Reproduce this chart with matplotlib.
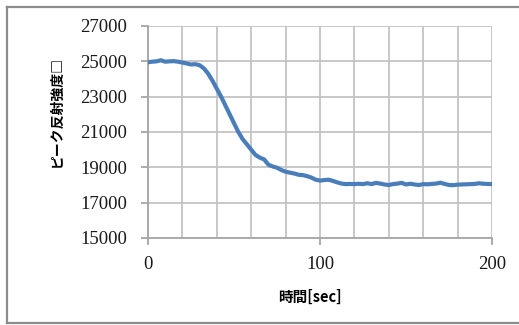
import matplotlib
matplotlib.use("Agg")
import matplotlib.pyplot as plt
from matplotlib.lines import Line2D
from matplotlib.ticker import MultipleLocator

plt.rcParams["font.family"] = "serif"
plt.rcParams["font.serif"] = ["Liberation Serif", "DejaVu Serif"]

# Measured peak reflection intensity over time
time_sec = [0, 2.5, 5, 7.5, 10, 12.5, 15, 17.5, 20, 22.5, 25, 27.5, 30, 32.5, 35, 37.5,
            40, 42.5, 45, 47.5, 50, 52.5, 55, 57.5, 60, 62.5, 65, 67.5, 70, 72.5, 75,
            77.5, 80, 82.5, 85, 87.5, 90, 92.5, 95, 97.5, 100, 102.5, 105, 107.5, 110,
            112.5, 115, 117.5, 120, 122.5, 125, 127.5, 130, 132.5, 135, 137.5, 140,
            142.5, 145, 147.5, 150, 152.5, 155, 157.5, 160, 162.5, 165, 167.5, 170,
            172.5, 175, 177.5, 180, 182.5, 185, 187.5, 190, 192.5, 195, 197.5, 200]
intensity = [24950, 24980, 25000, 25060, 24980, 25000, 25010, 24980, 24930, 24880,
             24820, 24840, 24780, 24600, 24300, 23900, 23450, 23000, 22500, 22000,
             21500, 21000, 20600, 20300, 20000, 19700, 19550, 19450, 19150, 19050,
             18980, 18850, 18750, 18700, 18650, 18580, 18560, 18500, 18420, 18300,
             18250, 18280, 18300, 18230, 18150, 18080, 18050, 18060, 18050, 18070,
             18050, 18100, 18050, 18120, 18080, 18030, 18000, 18050, 18080, 18120,
             18030, 18070, 18030, 18000, 18050, 18040, 18060, 18080, 18130, 18060,
             18000, 17990, 18020, 18030, 18040, 18050, 18060, 18100, 18070, 18060, 18050]

x_ticks = [0, 100, 200]
y_ticks = [15000, 17000, 19000, 21000, 23000, 25000, 27000]
x_label = "時間[sec]"
y_label = "ピーク反射強度□"

W, H = 519, 325
fig = plt.figure(figsize=(W / 100, H / 100), dpi=100)
fig.patch.set_facecolor("white")

# outer chart frame
frame_kw = dict(color="#8c8c8c", linewidth=1.6, transform=fig.transFigure)
fig.add_artist(Line2D([7 / W, 7 / W], [2 / H, 1 - 7 / H], **frame_kw))
fig.add_artist(Line2D([7 / W, 1], [1 - 7 / H, 1 - 7 / H], **frame_kw))
fig.add_artist(Line2D([7 / W, 1], [2 / H, 2 / H], **frame_kw))

ax = fig.add_axes([148 / W, 1 - 238 / H, (492 - 148) / W, (238 - 26) / H])
grid_c = "#c4c4c4"

ax.plot(time_sec, intensity, color="#4a7ebb", linewidth=3.0, solid_capstyle="round",
        solid_joinstyle="round", zorder=3)

ax.set_xlim(0, 200)
ax.set_ylim(15000, 27000)
ax.set_xticks(x_ticks)
ax.xaxis.set_minor_locator(MultipleLocator(20))
ax.set_yticks(y_ticks)
ax.grid(True, which="both", axis="x", color=grid_c, linewidth=1.3)
ax.grid(True, which="major", axis="y", color=grid_c, linewidth=1.3)
ax.set_axisbelow(True)

for side in ["top", "right"]:
    ax.spines[side].set_visible(False)
for side in ["left", "bottom"]:
    ax.spines[side].set_color("#a6a6a6")
    ax.spines[side].set_linewidth(1.3)

ax.tick_params(axis="both", which="major", length=5, width=1.3, color="#a6a6a6",
               direction="out", labelsize=13.5)
ax.tick_params(axis="x", which="minor", length=0)
ax.tick_params(axis="x", pad=8)
ax.tick_params(axis="y", pad=10)
ax.set_xticklabels([str(v) for v in x_ticks])
ax.set_yticklabels([str(v) for v in y_ticks])
for lbl in ax.get_xticklabels() + ax.get_yticklabels():
    lbl.set_color("#1a1a1a")

cjk = ["Noto Sans CJK JP", "DejaVu Sans"]
fig.text(310 / W, 1 - 297 / H, x_label, ha="center", va="center",
         family=cjk, fontweight="bold", fontsize=10.5)
fig.text(57 / W, 1 - 112 / H, y_label, ha="center", va="center", rotation=90,
         family=cjk, fontweight="bold", fontsize=10)

fig.savefig("out.png", dpi=100, facecolor="white")
